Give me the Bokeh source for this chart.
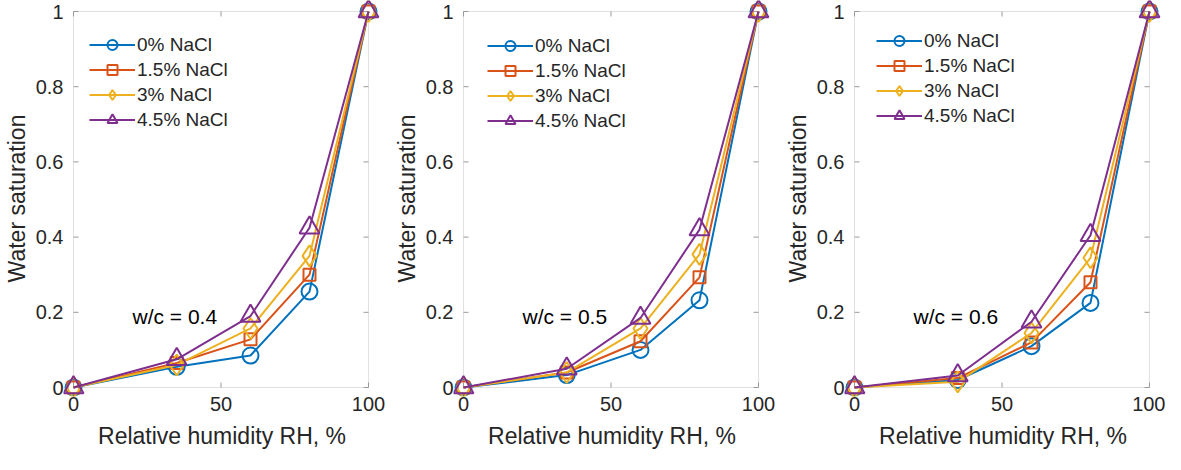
from bokeh.plotting import figure
from bokeh.layouts import row
from bokeh.models import Range1d, FixedTicker, Legend, LegendItem, Label, BoxAnnotation
from bokeh.embed import file_html
from bokeh.resources import INLINE

rh = [0, 35, 60, 80, 100]
series_names = ["0% NaCl", "1.5% NaCl", "3% NaCl", "4.5% NaCl"]
wc_labels = ["w/c = 0.4", "w/c = 0.5", "w/c = 0.6"]

# water saturation per panel, per series
wc04 = [
    [0.0, 0.055, 0.085, 0.255, 1.0],
    [0.0, 0.065, 0.128, 0.300, 1.0],
    [0.0, 0.060, 0.157, 0.350, 1.0],
    [0.0, 0.075, 0.190, 0.425, 1.0],
]
wc05 = [
    [0.0, 0.033, 0.100, 0.232, 1.0],
    [0.0, 0.040, 0.123, 0.293, 1.0],
    [0.0, 0.040, 0.157, 0.354, 1.0],
    [0.0, 0.050, 0.185, 0.420, 1.0],
]
wc06 = [
    [0.0, 0.020, 0.110, 0.225, 1.0],
    [0.0, 0.025, 0.120, 0.280, 1.0],
    [0.0, 0.015, 0.145, 0.345, 1.0],
    [0.0, 0.032, 0.175, 0.405, 1.0],
]
panels = [wc04, wc05, wc06]

x_ticks = [0, 50, 100]
y_ticks = [0, 0.2, 0.4, 0.6, 0.8, 1]
y_tick_labels = ["0", "0.2", "0.4", "0.6", "0.8", "1"]

colors = ["#0072BD", "#D95319", "#EDB120", "#7E2F8E"]
markers = ["circle", "square", "diamond", "triangle"]
msizes = [16, 12, 21, 20]

FONT = "Liberation Sans"
FRAME = "#9a9a9a"
TXT = "#262626"

# axes box geometry in pixels (box = data 0..100 x 0..1); padding keeps edge markers unclipped
BOX_W, BOX_H = 295, 376
PAD_L, PAD_R, PAD_T, PAD_B = 10, 12, 11, 9
TICK = 5

widths = [390, 391, 384]
BORDER_L = 63
legend_locs = [(26, 264), (34, 263), (32, 268)]

X0, X1 = 0, 100
Y0, Y1 = 0, 1
ux = (X1 - X0) / BOX_W
uy = (Y1 - Y0) / BOX_H

figs = []
for k, data in enumerate(panels):
    frame_w = PAD_L + BOX_W + PAD_R
    p = figure(width=widths[k], height=454, output_backend="svg", toolbar_location=None,
               x_range=Range1d(X0 - PAD_L * ux, X1 + PAD_R * ux),
               y_range=Range1d(Y0 - PAD_B * uy, Y1 + PAD_T * uy),
               min_border_left=BORDER_L,
               min_border_right=widths[k] - BORDER_L - frame_w,
               min_border_top=0, min_border_bottom=58)
    p.xgrid.visible = False
    p.ygrid.visible = False
    p.outline_line_color = None
    p.background_fill_color = "white"
    p.border_fill_color = "white"

    # axes box and inward ticks on all four sides
    p.add_layout(BoxAnnotation(left=X0, right=X1, bottom=Y0, top=Y1, fill_alpha=0,
                               line_color=FRAME, line_width=1, level="underlay"))
    p.segment(x0=x_ticks, x1=x_ticks, y0=[Y0] * len(x_ticks), y1=[Y0 + TICK * uy] * len(x_ticks),
              line_color=FRAME, line_width=1, level="underlay")
    p.segment(x0=x_ticks, x1=x_ticks, y0=[Y1] * len(x_ticks), y1=[Y1 - TICK * uy] * len(x_ticks),
              line_color=FRAME, line_width=1, level="underlay")
    p.segment(x0=[X0] * len(y_ticks), x1=[X0 + TICK * ux] * len(y_ticks), y0=y_ticks, y1=y_ticks,
              line_color=FRAME, line_width=1, level="underlay")
    p.segment(x0=[X1] * len(y_ticks), x1=[X1 - TICK * ux] * len(y_ticks), y0=y_ticks, y1=y_ticks,
              line_color=FRAME, line_width=1, level="underlay")

    items = []
    for i, ys in enumerate(data):
        ln = p.line(rh, ys, line_color=colors[i], line_width=2)
        sc = p.scatter(rh, ys, marker=markers[i], size=msizes[i],
                       line_color=colors[i], line_width=2, fill_alpha=0)
        items.append(LegendItem(label=series_names[i], renderers=[ln, sc]))

    leg = Legend(items=items, location=legend_locs[k], padding=0, margin=0, spacing=0,
                 glyph_width=46, glyph_height=25, label_height=25, label_standoff=2,
                 border_line_color=None, background_fill_alpha=0,
                 label_text_font=FONT, label_text_font_size="19px", label_text_color=TXT)
    p.add_layout(leg, "center")

    p.add_layout(Label(x=20, y=0.19, text=wc_labels[k], text_font=FONT, text_font_size="21px",
                       text_color="black", text_baseline="middle"))

    for ax in [p.xaxis[0], p.yaxis[0]]:
        ax.axis_line_color = None
        ax.major_tick_line_color = None
        ax.minor_tick_line_color = None
        ax.major_tick_in = 0
        ax.major_tick_out = 0
        ax.major_label_text_font = FONT
        ax.major_label_text_font_size = "20px"
        ax.major_label_text_color = TXT
        ax.axis_label_text_font = FONT
        ax.axis_label_text_font_size = "23px"
        ax.axis_label_text_font_style = "normal"
        ax.axis_label_text_color = TXT
    p.xaxis[0].ticker = FixedTicker(ticks=x_ticks)
    p.yaxis[0].ticker = FixedTicker(ticks=y_ticks)
    p.yaxis[0].major_label_overrides = {t: s for t, s in zip(y_ticks, y_tick_labels)}
    p.xaxis[0].axis_label = "Relative humidity RH, %"
    p.yaxis[0].axis_label = "Water saturation"
    p.xaxis[0].major_label_standoff = 0
    p.xaxis[0].axis_label_standoff = 9
    p.yaxis[0].major_label_standoff = 0
    p.yaxis[0].axis_label_standoff = 3
    figs.append(p)

layout = row(*figs, spacing=0)
open("out.html", "w").write(file_html(layout, INLINE))
